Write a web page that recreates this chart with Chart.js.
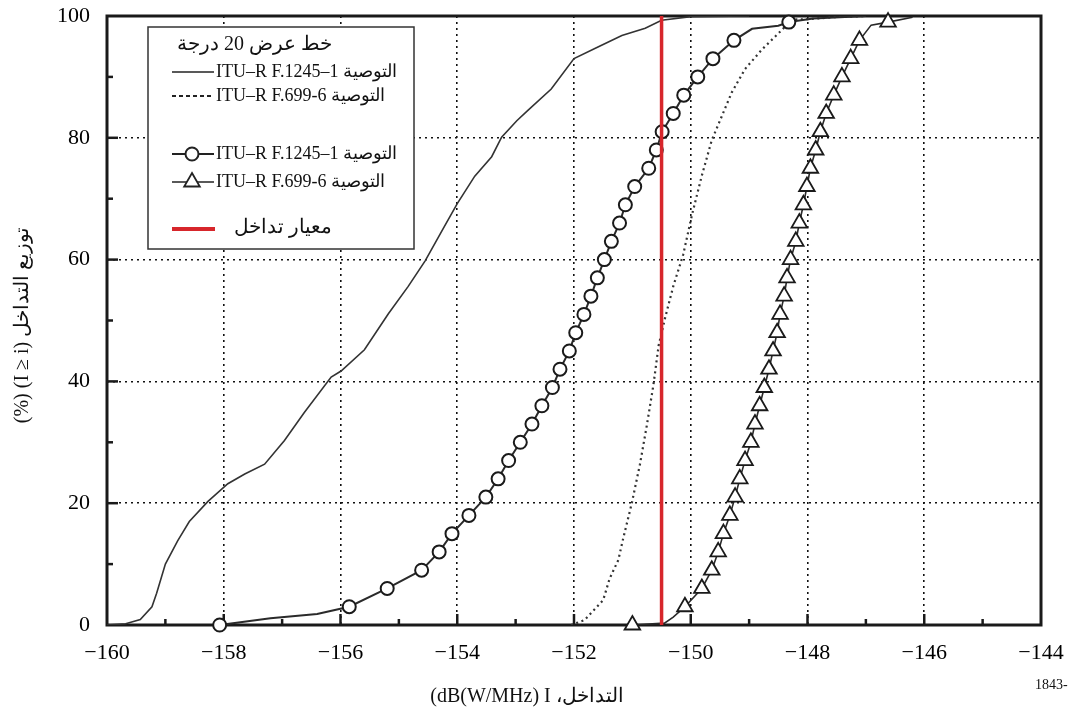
<!DOCTYPE html>
<html>
<head>
<meta charset="utf-8">
<script src="https://cdn.jsdelivr.net/npm/chart.js@4.4.1/dist/chart.umd.min.js"></script>
<style>
  html, body { margin: 0; padding: 0; background: #fff; }
  #wrap { width: 1070px; height: 711px; }
</style>
</head>
<body>
<div id="wrap"><canvas id="chart" width="1070" height="711" style="width:1070px;height:711px"></canvas></div>
<script>
// axis ticks
const xTickValues = [-160, -158, -156, -154, -152, -150, -148, -146, -144];
const yTickValues = [0, 20, 40, 60, 80, 100];

// F.1245-1, 20 deg latitude (plain line)
const f1245LineX = [-160.0, -159.68, -159.43, -159.23, -159.15, -159.0, -158.79, -158.59, -158.27, -157.93, -157.64, -157.3, -156.96, -156.62, -156.16, -155.99, -155.59, -155.18, -154.84, -154.55, -154.27, -154.0, -153.7, -153.41, -153.24, -152.98, -152.79, -152.39, -152.0, -151.59, -151.18, -150.78, -150.5, -150.0, -149.0];
const f1245LineY = [0, 0.2, 0.9, 3.0, 5.2, 10.0, 13.8, 17.0, 20.3, 23.2, 24.8, 26.4, 30.3, 34.9, 40.7, 41.7, 45.2, 51.1, 55.6, 59.8, 64.6, 69.2, 73.7, 76.9, 80.1, 82.8, 84.5, 88.0, 93.0, 94.9, 96.8, 98.0, 99.3, 99.9, 100];

// F.699-6, 20 deg latitude (dotted line)
const f699LineX = [-152.05, -151.82, -151.5, -151.39, -151.24, -151.16, -151.01, -150.87, -150.75, -150.64, -150.55, -150.44, -150.3, -150.13, -149.98, -149.81, -149.64, -149.47, -149.3, -149.07, -148.78, -148.44, -148.27, -147.96, -147.56, -147.0];
const f699LineY = [0, 0.8, 4.1, 7.6, 10.7, 14.1, 20.0, 26.4, 32.9, 39.4, 45.9, 50.4, 55.6, 60.8, 67.3, 73.8, 79.6, 83.5, 87.4, 91.3, 94.5, 97.7, 99.4, 99.5, 99.8, 100];

// F.1245-1 with circles
const circleX = [-158.07, -155.85, -155.2, -154.61, -154.31, -154.09, -153.8, -153.51, -153.3, -153.12, -152.92, -152.72, -152.55, -152.37, -152.24, -152.08, -151.97, -151.83, -151.71, -151.6, -151.48, -151.36, -151.22, -151.12, -150.96, -150.72, -150.59, -150.49, -150.3, -150.12, -149.88, -149.62, -149.26, -148.32];
const circleY = [0, 3, 6, 9, 12, 15, 18, 21, 24, 27, 30, 33, 36, 39, 42, 45, 48, 51, 54, 57, 60, 63, 66, 69, 72, 75, 78, 81, 84, 87, 90, 93, 96, 99];
const circlePathX = [-157.2, -156.4, -148.95, -148.5, -147.9, -147.0];
const circlePathY = [1.1, 1.8, 97.9, 98.4, 99.6, 100];

// F.699-6 with triangles
const triangleX = [-151.0, -150.1, -149.81, -149.64, -149.53, -149.44, -149.33, -149.24, -149.16, -149.07, -148.97, -148.9, -148.82, -148.74, -148.66, -148.59, -148.52, -148.47, -148.4, -148.35, -148.29, -148.2, -148.14, -148.07, -148.01, -147.95, -147.86, -147.78, -147.68, -147.55, -147.41, -147.26, -147.11, -146.62];
const triangleY = [0, 3, 6, 9, 12, 15, 18, 21, 24, 27, 30, 33, 36, 39, 42, 45, 48, 51, 54, 57, 60, 63, 66, 69, 72, 75, 78, 81, 84, 87, 90, 93, 96, 99];
const trianglePathX = [-150.45, -150.3, -146.91, -146.2];
const trianglePathY = [0.3, 1.3, 98.5, 99.8];

// interference criterion
const criterionX = [-150.5, -150.5];
const criterionY = [0, 100];

const SERIF = '"Liberation Serif", "Times New Roman", "DejaVu Serif", serif';

const pts = (xs, ys) => xs.map((x, i) => ({ x: x, y: ys[i] }));
const path = (xs, ys, exs, eys) => pts(xs, ys).concat(pts(exs, eys)).sort((a, b) => a.y - b.y);

// keep the plot box fixed: no extra room for overhanging labels
const fixScale = (size) => (s) => {
  if (s.isHorizontal()) s.height = size; else s.width = size;
  s.paddingTop = 0; s.paddingBottom = 0; s.paddingLeft = 0; s.paddingRight = 0;
};

const chartFrame = {
  id: 'chartFrame',
  beforeDatasetsDraw(chart) {
    const { ctx, chartArea: a, scales: { x, y } } = chart;
    ctx.save();
    ctx.strokeStyle = '#1a1a1a';
    ctx.lineWidth = 3;
    ctx.setLineDash([]);
    ctx.strokeRect(a.left, a.top, a.right - a.left, a.bottom - a.top);
    // inward tick marks
    ctx.lineWidth = 2.5;
    for (let v = -159; v < -144; v++) {
      const px = x.getPixelForValue(v);
      const len = v % 2 === 0 ? 11 : 6;
      ctx.beginPath();
      ctx.moveTo(px, a.bottom);
      ctx.lineTo(px, a.bottom - len);
      ctx.stroke();
    }
    for (let v = 10; v < 100; v += 10) {
      const py = y.getPixelForValue(v);
      const len = v % 20 === 0 ? 11 : 6;
      ctx.beginPath();
      ctx.moveTo(a.left, py);
      ctx.lineTo(a.left + len, py);
      ctx.stroke();
    }
    ctx.restore();
  },
  afterDatasetsDraw(chart) {
    const ctx = chart.ctx;
    ctx.save();
    // legend box
    ctx.fillStyle = '#fff';
    ctx.fillRect(148, 27, 266, 222);
    ctx.strokeStyle = '#333';
    ctx.lineWidth = 1.5;
    ctx.strokeRect(148, 27, 266, 222);

    ctx.fillStyle = '#111';
    ctx.textBaseline = 'middle';
    ctx.font = '20px ' + SERIF;
    ctx.textAlign = 'right';
    ctx.direction = 'rtl';
    ctx.fillText('خط عرض 20 درجة', 332, 45);
    ctx.fillText('معيار تداخل', 332, 228);

    ctx.direction = 'ltr';
    ctx.textAlign = 'left';
    ctx.font = '18px ' + SERIF;
    ctx.fillText('ITU\u2013R F.1245\u20131 التوصية', 216, 72);
    ctx.fillText('ITU\u2013R F.699-6 التوصية', 216, 96);
    ctx.fillText('ITU\u2013R F.1245\u20131 التوصية', 216, 154);
    ctx.fillText('ITU\u2013R F.699-6 التوصية', 216, 182);

    ctx.strokeStyle = '#222';
    ctx.lineWidth = 1.6;
    ctx.beginPath(); ctx.moveTo(172, 72); ctx.lineTo(214, 72); ctx.stroke();
    ctx.lineWidth = 2.2;
    ctx.setLineDash([4, 3]);
    ctx.beginPath(); ctx.moveTo(172, 96); ctx.lineTo(214, 96); ctx.stroke();
    ctx.setLineDash([]);
    ctx.lineWidth = 2.2;
    ctx.beginPath(); ctx.moveTo(172, 154); ctx.lineTo(214, 154); ctx.stroke();
    ctx.lineWidth = 1.6;
    ctx.beginPath(); ctx.moveTo(172, 182); ctx.lineTo(214, 182); ctx.stroke();
    ctx.fillStyle = '#fff';
    ctx.beginPath(); ctx.arc(192, 154, 6.5, 0, Math.PI * 2); ctx.fill(); ctx.lineWidth = 2; ctx.stroke();
    ctx.beginPath();
    ctx.moveTo(192, 182 - 9); ctx.lineTo(192 + 7.8, 182 + 4.5); ctx.lineTo(192 - 7.8, 182 + 4.5); ctx.closePath();
    ctx.fill(); ctx.lineWidth = 1.8; ctx.stroke();

    ctx.strokeStyle = '#d7262b';
    ctx.lineWidth = 4;
    ctx.beginPath(); ctx.moveTo(172, 229); ctx.lineTo(215, 229); ctx.stroke();
    ctx.restore();
  },
  afterDraw(chart) {
    const ctx = chart.ctx;
    ctx.save();
    ctx.fillStyle = '#111';
    ctx.textBaseline = 'middle';
    ctx.font = '20px ' + SERIF;
    ctx.textAlign = 'center';
    ctx.direction = 'ltr';
    ctx.fillText('(dB(W/MHz) I \u060Cالتداخل', 527, 697);
    ctx.save();
    ctx.translate(23, 325);
    ctx.rotate(-Math.PI / 2);
    ctx.fillText('(%) (I \u2265 i) توزيع التداخل', 0, 0);
    ctx.restore();
    ctx.font = '14px ' + SERIF;
    ctx.textAlign = 'left';
    ctx.fillText('1843-', 1035, 685);
    ctx.restore();
  }
};

new Chart(document.getElementById('chart'), {
  type: 'scatter',
  data: {
    datasets: [
      { label: 'معيار تداخل', data: pts(criterionX, criterionY), showLine: true, borderColor: '#d7262b', borderWidth: 3.5, pointRadius: 0 },
      { label: 'F.1245-1 markers', data: pts(circleX, circleY), showLine: false, pointStyle: 'circle', pointRadius: 6.5, pointBorderWidth: 2, pointBorderColor: '#1a1a1a', pointBackgroundColor: '#fff', clip: false },
      { label: 'F.699-6 markers', data: pts(triangleX, triangleY), showLine: false, pointStyle: 'triangle', pointRadius: 9, pointBorderWidth: 1.8, pointBorderColor: '#1a1a1a', pointBackgroundColor: '#fff', clip: false },
      { label: 'F.1245-1 path', data: path(circleX, circleY, circlePathX, circlePathY), showLine: true, borderColor: '#2a2a2a', borderWidth: 2, pointRadius: 0 },
      { label: 'F.699-6 path', data: path(triangleX, triangleY, trianglePathX, trianglePathY), showLine: true, borderColor: '#2a2a2a', borderWidth: 1.6, pointRadius: 0 },
      { label: 'F.1245-1', data: pts(f1245LineX, f1245LineY), showLine: true, borderColor: '#333', borderWidth: 1.6, pointRadius: 0 },
      { label: 'F.699-6', data: pts(f699LineX, f699LineY), showLine: true, borderColor: '#333', borderWidth: 2.2, borderDash: [2, 3.5], pointRadius: 0 }
    ]
  },
  options: {
    responsive: false,
    animation: false,
    devicePixelRatio: 1,
    layout: { padding: { top: 16, right: 29, left: 0, bottom: 0 } },
    plugins: { legend: { display: false }, tooltip: { enabled: false } },
    scales: {
      x: {
        type: 'linear',
        min: -160,
        max: -144,
        afterBuildTicks: (s) => { s.ticks = xTickValues.map((v) => ({ value: v })); },
        afterFit: fixScale(86),
        ticks: {
          padding: 15,
          color: '#000',
          font: { family: SERIF, size: 22 },
          callback: (v) => (v < 0 ? '\u2212' + Math.abs(v) : String(v))
        },
        grid: { color: '#111', lineWidth: 1.6, drawTicks: false },
        border: { display: false, dash: [2, 4] }
      },
      y: {
        min: 0,
        max: 100,
        afterBuildTicks: (s) => { s.ticks = yTickValues.map((v) => ({ value: v })); },
        afterFit: fixScale(107),
        ticks: {
          padding: 17,
          color: '#000',
          font: { family: SERIF, size: 22 }
        },
        grid: { color: '#111', lineWidth: 1.6, drawTicks: false },
        border: { display: false, dash: [2, 4] }
      }
    }
  },
  plugins: [chartFrame]
});
</script>
</body>
</html>
